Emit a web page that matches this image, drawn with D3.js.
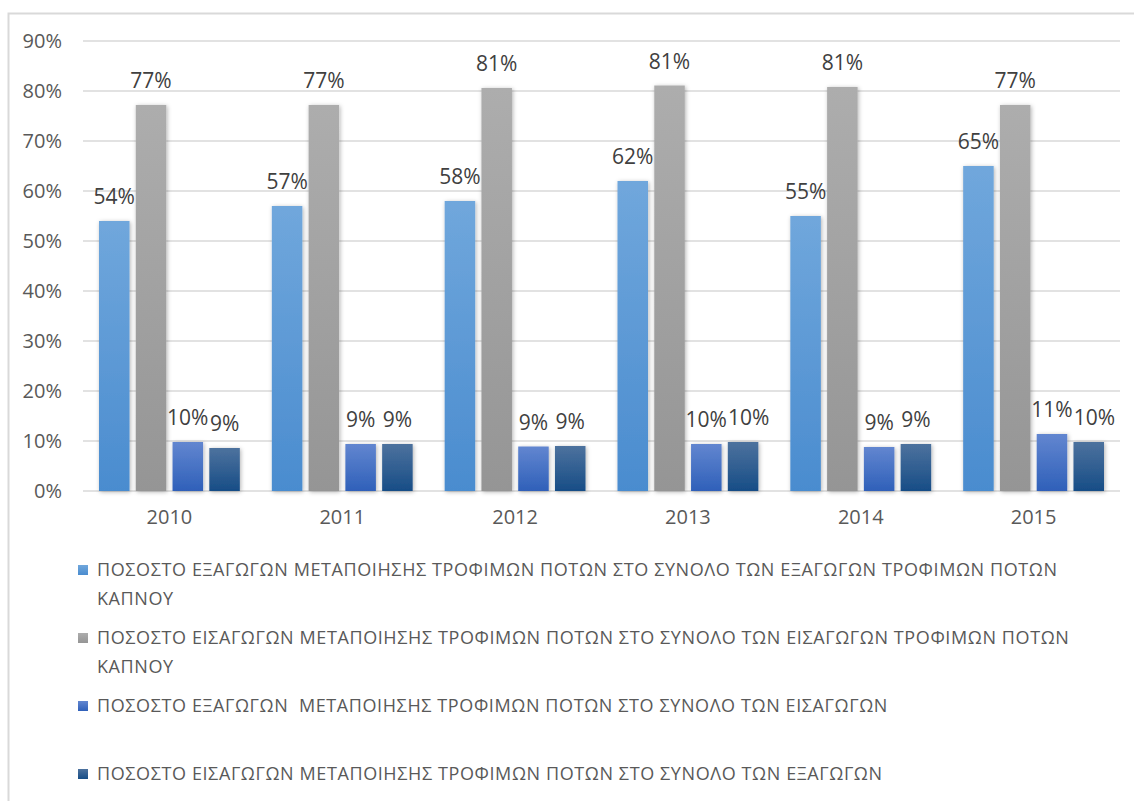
<!DOCTYPE html>
<html>
<head>
<meta charset="utf-8">
<script src="https://cdn.jsdelivr.net/npm/d3@7"></script>
<style>
  body { margin: 0; background: #fff; }
  svg text { font-family: "Open Sans", "Noto Sans", sans-serif; }
</style>
</head>
<body>
<svg id="chart"></svg>
<script>
// Chart data
const years = ["2010", "2011", "2012", "2013", "2014", "2015"];
const exportShareFood = [54, 57, 58, 62, 55, 65];
const importShareFood = [77.2, 77.2, 80.6, 81.1, 80.8, 77.2];
const exportShareImports = [9.8, 9.4, 8.9, 9.4, 8.8, 11.4];
const importShareExports = [8.6, 9.4, 9.0, 9.8, 9.4, 9.8];
const dataLabels = [
  ["54%", "77%", "10%", "9%"],
  ["57%", "77%", "9%", "9%"],
  ["58%", "81%", "9%", "9%"],
  ["62%", "81%", "10%", "10%"],
  ["55%", "81%", "9%", "9%"],
  ["65%", "77%", "11%", "10%"]
];
const yTicks = [0, 10, 20, 30, 40, 50, 60, 70, 80, 90];
const seriesNames = [
  ["ΠΟΣΟΣΤΟ ΕΞΑΓΩΓΩΝ ΜΕΤΑΠΟΙΗΣΗΣ ΤΡΟΦΙΜΩΝ ΠΟΤΩΝ ΣΤΟ ΣΥΝΟΛΟ ΤΩΝ ΕΞΑΓΩΓΩΝ ΤΡΟΦΙΜΩΝ ΠΟΤΩΝ", "ΚΑΠΝΟΥ"],
  ["ΠΟΣΟΣΤΟ ΕΙΣΑΓΩΓΩΝ ΜΕΤΑΠΟΙΗΣΗΣ ΤΡΟΦΙΜΩΝ ΠΟΤΩΝ ΣΤΟ ΣΥΝΟΛΟ ΤΩΝ ΕΙΣΑΓΩΓΩΝ ΤΡΟΦΙΜΩΝ ΠΟΤΩΝ", "ΚΑΠΝΟΥ"],
  ["ΠΟΣΟΣΤΟ ΕΞΑΓΩΓΩΝ  ΜΕΤΑΠΟΙΗΣΗΣ ΤΡΟΦΙΜΩΝ ΠΟΤΩΝ ΣΤΟ ΣΥΝΟΛΟ ΤΩΝ ΕΙΣΑΓΩΓΩΝ"],
  ["ΠΟΣΟΣΤΟ ΕΙΣΑΓΩΓΩΝ ΜΕΤΑΠΟΙΗΣΗΣ ΤΡΟΦΙΜΩΝ ΠΟΤΩΝ ΣΤΟ ΣΥΝΟΛΟ ΤΩΝ ΕΞΑΓΩΓΩΝ"]
];

const series = [exportShareFood, importShareFood, exportShareImports, importShareExports];
const gradients = [
  ["#70a7dc", "#4a8ccf"],
  ["#adadad", "#959595"],
  ["#6286d0", "#2f60b9"],
  ["#4d729e", "#174d86"]
];

const width = 1134, height = 801;
const margin = { top: 41, right: 14, bottom: 310, left: 83 };

const svg = d3.select("#chart")
  .attr("width", width)
  .attr("height", height);

// Chart frame (runs off the right and bottom edge in the original)
svg.append("rect")
  .attr("x", 8.5)
  .attr("y", 13.5)
  .attr("width", width)
  .attr("height", height)
  .attr("fill", "none")
  .attr("stroke", "#d9d9d9")
  .attr("stroke-width", 2);

const defs = svg.append("defs");

gradients.forEach((g, i) => {
  const lg = defs.append("linearGradient")
    .attr("id", "grad" + i)
    .attr("x1", 0).attr("y1", 0)
    .attr("x2", 0).attr("y2", 1);
  lg.append("stop").attr("offset", "0%").attr("stop-color", g[0]);
  lg.append("stop").attr("offset", "100%").attr("stop-color", g[1]);
});

const shadow = defs.append("filter")
  .attr("id", "shadow")
  .attr("x", "-30%").attr("y", "-10%")
  .attr("width", "160%").attr("height", "130%");
shadow.append("feDropShadow")
  .attr("dx", 1).attr("dy", 1)
  .attr("stdDeviation", 2)
  .attr("flood-color", "#000")
  .attr("flood-opacity", 0.3);

const plotW = width - margin.left - margin.right;
const plotH = height - margin.top - margin.bottom;

const g = svg.append("g")
  .attr("transform", `translate(${margin.left}, ${margin.top})`);

// Scales
const x0 = d3.scaleBand()
  .domain(years)
  .range([0, plotW])
  .padding(0);

const x1 = d3.scaleBand()
  .domain(d3.range(series.length))
  .range([16, x0.bandwidth() - 16])
  .paddingInner(0.17);

const y = d3.scaleLinear()
  .domain([0, 90])
  .range([plotH, 0]);

// Gridlines
g.append("g")
  .selectAll("line")
  .data(yTicks)
  .enter()
  .append("line")
  .attr("x1", 0)
  .attr("x2", plotW)
  .attr("y1", d => y(d))
  .attr("y2", d => y(d))
  .attr("stroke", "#d9d9d9")
  .attr("stroke-width", 1.3);

// Y axis labels
const yAxis = d3.axisLeft(y)
  .tickValues(yTicks)
  .tickFormat(d => d + "%")
  .tickSize(0)
  .tickPadding(21);

g.append("g")
  .call(yAxis)
  .call(a => a.select(".domain").remove())
  .selectAll("text")
  .attr("fill", "#595959")
  .style("font-size", "20px");

// X axis labels
const xAxis = d3.axisBottom(x0)
  .tickSize(0)
  .tickPadding(19);

g.append("g")
  .attr("transform", `translate(0, ${plotH})`)
  .call(xAxis)
  .call(a => a.select(".domain").remove())
  .selectAll("text")
  .attr("fill", "#595959")
  .style("font-size", "20px");

// Bars
const groups = g.selectAll(".year")
  .data(years)
  .enter()
  .append("g")
  .attr("class", "year")
  .attr("transform", d => `translate(${x0(d)}, 0)`);

groups.selectAll("rect")
  .data((d, i) => series.map((s, k) => ({ k, value: s[i], label: dataLabels[i][k] })))
  .enter()
  .append("rect")
  .attr("x", d => x1(d.k))
  .attr("y", d => y(d.value))
  .attr("width", x1.bandwidth())
  .attr("height", d => plotH - y(d.value))
  .attr("fill", d => `url(#grad${d.k})`)
  .attr("filter", "url(#shadow)");

groups.selectAll(".label")
  .data((d, i) => series.map((s, k) => ({ k, value: s[i], label: dataLabels[i][k] })))
  .enter()
  .append("text")
  .attr("class", "label")
  .attr("x", d => x1(d.k) + x1.bandwidth() / 2)
  .attr("y", d => y(d.value) - 17)
  .attr("text-anchor", "middle")
  .attr("fill", "#404040")
  .style("font-size", "21px")
  .text(d => d.label);

// Nudge labels to the right when they collide with the previous one
groups.each(function () {
  let prev = null;
  d3.select(this).selectAll(".label").each(function () {
    const box = this.getBBox();
    if (prev && box.x < prev.x + prev.width + 1 &&
        box.y < prev.y + prev.height && prev.y < box.y + box.height) {
      const shift = prev.x + prev.width + 1 - box.x;
      d3.select(this).attr("x", +d3.select(this).attr("x") + shift);
      box.x += shift;
    }
    prev = box;
  });
});

// Legend
const legendRowY = [570, 638, 706, 774];
const legend = svg.append("g");

seriesNames.forEach((lines, i) => {
  const row = legend.append("g")
    .attr("transform", `translate(78, ${legendRowY[i]})`);
  row.append("rect")
    .attr("x", 0)
    .attr("y", -5)
    .attr("width", 10)
    .attr("height", 10)
    .attr("fill", `url(#grad${i})`);
  lines.forEach((line, j) => {
    row.append("text")
      .attr("x", 19)
      .attr("y", j * 29)
      .attr("dy", "0.35em")
      .attr("fill", "#595959")
      .style("font-size", "18px")
      .style("letter-spacing", "0.6px")
      .style("white-space", "pre")
      .text(line);
  });
});
</script>
</body>
</html>
